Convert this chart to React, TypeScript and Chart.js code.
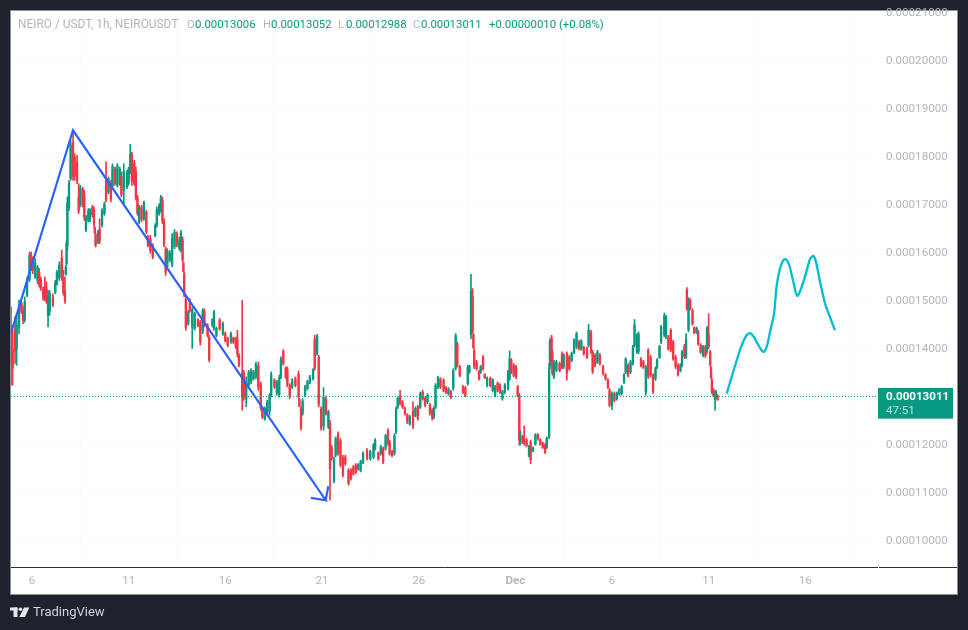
import React, { useEffect, useRef } from "react";
import { Chart, registerables } from "chart.js";

Chart.register(...registerables);

// Candle values are in units of 0.00000001 USDT. Hours count from the left edge of the chart.
const candleHours = [
  0,2,5,7,10,13,15,17,20,23,25,27,30,33,35,37,40,42,44,46,48,52,55,57,60,63,65,67,68,69,70,72,74,77,79,82,84,86,89,91,93,96,98,101,103,104,105,108,110,113,116,118,121,124,126,129,132,135,137,140,144,146,148,150,153,155,157,159,162,165,168,170,173,176,179,181,184,186,188,190,192,194,197,200,203,206,209,211,213,214,215,217,220,222,225,228,232,235,238,240,244,246,250,252,255,259,263,266,269,273,276,279,281,283,
  287,289,292,295,298,301,304,307,310,312,315,318,321,323,327,330,333,335,338,341,343,346,349,353,357,358,360,362,365,368,371,375,377,380,382,385,388,391,394,396,398,401,403,406,409,412,415,419,422,425,428,431,434,437,442,446,450,452,456,459,462,465,468,470,473,476,478,480,483,486,489,492,495,499,502,505,508,511,514,517,520,523,525,527,530,533,537,540,543,546,549,552,554,557,561,564,567,569,571,573,574,
  575,578,581,583,586,588,591,595,598,601,604,607,610,613,617,619,621,624,627,629,631,632,635,637,640,643,645,648,651,654,657,660,663,665,668,669,671,672,674,677,681,684,686,690,693,696,699,702,705,708,711,715,717,720,722,725,728,731,735,738,741,743,746,749,752,755,758,761,763,766,769,772,774,777,779,782,785,788,791,794,797,800,802,805,807,811,813,816,819,822,825,828,831,833,836,838,839,841,843,846,848,851,853,856,859,862,864,866,868,869,870,872,874,875,877,
];
const candleOpen = [
  14500,14000,14400,14000,14450,14950,14780,14620,15120,15450,15950,15800,15500,15420,15600,15450,15240,15300,15250,14700,14800,15080,15180,15370,15480,15900,15500,15200,15570,15780,16150,16950,17550,18300,18000,17900,17150,17000,17330,17200,16480,16680,16700,16950,16900,16530,16380,16220,16500,16580,16820,17500,17270,17450,17400,17750,17420,17450,17600,17300,17380,17450,17700,18050,17880,17700,17150,16650,16950,16720,16850,16340,16300,16150,16360,16580,16820,16900,17100,16650,16080,15720,15850,15760,16130,16400,16100,16070,16280,15790,15560,15040,14530,15000,14450,14430,14610,14560,14370,14790,14490,14240,14490,14430,14280,14600,14320,14320,14220,14150,14230,14220,14200,13870,
  13500,13500,12950,13250,13320,13380,13420,13650,13270,12770,12550,12660,12700,13050,13350,13080,13050,13420,13950,13590,13580,13240,13210,13390,13480,12950,12750,12660,13040,13180,13310,13380,14200,13900,13830,12750,12400,12960,12380,12450,11950,11250,11790,12230,12090,11740,11750,11470,11470,11540,11580,11500,11470,11640,11890,11720,11750,11920,11830,11820,11930,11930,12300,12070,11860,11820,12270,12790,13000,12900,12770,12620,12440,12700,12620,12790,12790,13100,12970,12900,12830,12730,12590,12790,13210,13370,13350,13190,13070,13110,13180,13600,14110,13630,13210,13190,13280,13520,14300,15100,14300,
  13970,13730,13520,13520,13830,13470,13240,13390,13140,13040,13280,13250,12970,13100,13180,13390,13770,13660,13630,13210,13030,12030,12180,12150,12110,11790,12060,11880,12020,12210,12110,12040,12000,11950,12170,13640,14230,13930,13420,13560,13700,13900,13630,13900,13830,13760,13940,14050,14150,14000,14030,14010,14080,14350,13930,13870,13730,13870,13630,13460,13350,13140,12820,13070,12960,13060,13070,13310,13520,13660,13520,13700,14080,13950,13950,13790,13730,13100,13970,13830,13450,13380,13620,13830,14150,14290,14260,14250,14390,14150,13830,13660,13550,13660,14060,13840,15230,14400,15020,14800,14440,14340,14360,14080,13870,14040,13950,14300,13940,13610,13350,13150,12950,13006,13030,
];
const candleHigh = [
  14880,14390,14670,14740,15020,14980,14880,15085,15500,16020,16020,15920,15880,15745,15675,15500,15290,15500,15400,15220,15220,15150,15430,15640,15815,16060,15640,15500,15745,16265,17168,17515,18350,18557,18070,18035,17445,17410,17375,17305,16785,16925,16925,16995,16960,16540,16405,16475,16715,16925,17065,17900,17585,17515,17860,17790,17860,17790,17690,17860,17725,17790,18265,18105,17930,17790,17200,16995,16995,17080,16890,16370,16370,16195,16610,16960,17030,17200,17170,16715,16125,16090,16055,16405,16490,16440,16335,16475,16335,15815,15605,15085,14805,15050,14875,14770,14635,14600,14840,14840,14530,14285,14635,14805,14460,14635,14565,14355,14250,14355,14250,14250,14390,13905,
  15016,13558,13420,13558,13592,13558,13730,13730,13315,12794,12794,12933,13072,13523,13385,13350,13454,13835,13988,13627,13627,13280,13385,13420,13544,12968,12794,12968,13245,13350,13454,13592,14287,14308,13870,12794,13197,13002,12725,12516,11995,11752,12169,12273,12134,11787,11787,11509,11509,11579,11613,11613,11683,11857,11926,11891,12030,12134,11857,11995,11960,12225,12343,12100,11891,12238,12794,13002,13141,12933,12794,12655,12620,12898,12794,12829,13106,13141,13002,13072,12863,12759,12794,13280,13433,13405,13385,13224,13197,13141,13592,14322,14148,13662,13245,13224,13662,13662,15558,15259,14322,
  14009,13766,13558,13662,13870,13488,13419,13419,13384,13245,13315,13280,13141,13280,13558,13960,13801,13697,13662,13245,13072,12308,12204,12398,12134,11995,12100,11961,12238,12238,12134,12065,12030,12169,13697,14217,14287,13974,13766,13766,13732,13940,13905,13940,13870,13940,14217,14356,14183,14197,14058,14044,14516,14391,13974,13905,13974,13905,13662,13488,13384,13176,13106,13106,13106,13176,13245,13488,13822,13697,13766,14079,14613,14322,14356,13822,13766,13662,14009,13870,13488,13627,13801,14079,14495,14752,14703,14287,14426,14183,13870,13697,13697,13974,14099,14322,15280,15072,15051,14842,14460,14460,14391,14113,14079,14079,14474,14738,13974,13627,13384,13176,13106,13141,13052,
];
const candleLow = [
  13245,13245,13700,13660,14320,14740,14530,14560,15090,15400,15640,15570,15470,15360,15290,15220,15015,15015,14950,14460,14700,14880,15150,15330,15430,15430,15120,14950,15535,15745,16060,16890,17515,17515,17515,17445,16820,16960,16960,16680,16440,16650,16650,16750,16540,16405,16125,16195,16195,16540,16785,17065,17235,17065,17375,17410,17375,17410,17170,17030,17340,17410,17655,17410,17410,17100,16785,16610,16650,16680,16405,16125,15990,15880,16335,16540,16785,16855,16610,16125,15535,15675,15815,15710,16090,16125,16055,16020,15815,15605,15085,14390,14495,14770,14010,14390,14460,14080,14320,14460,14250,13730,14460,14390,14250,14390,14285,14145,14045,14115,14115,14010,13835,13625,
  12725,12933,12794,13211,13280,13350,13385,13141,12725,12551,12516,12620,12620,13002,13176,13037,13002,13385,13662,13385,13211,12968,13176,13211,12968,12794,12308,12620,13002,13141,13280,13350,13558,13870,12794,12308,12308,12620,12343,10850,11683,11211,11752,11787,11544,11336,11579,11162,11266,11370,11405,11475,11440,11613,11683,11683,11718,11891,11683,11787,11613,11891,11995,11787,11752,11787,12238,12759,12829,12759,12620,12447,12412,12343,12586,12516,12759,12933,12794,12863,12620,12516,12551,12759,13176,13176,13106,13072,13037,12968,13141,13558,13627,13419,13072,13002,13245,13488,14217,14322,14009,
  13592,13558,13349,13488,13558,13384,13211,13211,13106,13002,13106,13072,12933,13072,13141,13349,13488,13419,13384,13002,11995,11995,12030,11995,11961,11752,11613,11857,11995,12100,11995,11926,11822,11926,12134,13592,13662,13454,13384,13523,13523,13592,13592,13349,13558,13732,13905,14009,13974,13974,13870,13801,14044,13905,13488,13627,13697,13662,13454,13349,13176,12794,12738,12898,12933,13037,13037,13280,13488,13419,13488,13662,14044,13905,13905,13627,13592,13037,13384,13419,13072,13349,13592,13801,14113,14252,14217,13974,13940,13766,13592,13433,13523,13627,13801,13801,14808,14356,14808,14495,14322,14322,14079,13905,13836,13822,13905,14009,13627,13384,13072,13002,12725,13002,12930,
];
const candleClose = [
  13700,13600,13950,14500,14900,14780,14600,14980,15440,15950,15700,15640,15800,15700,15340,15260,15060,15050,15000,15100,15150,14920,15380,15600,15750,15500,15180,15000,15700,16200,17050,17450,18250,17600,17600,17500,16880,17350,17000,16750,16750,16880,16900,16800,16600,16420,16160,16440,16250,16880,17020,17100,17550,17120,17800,17450,17820,17750,17220,17700,17680,17750,18050,17500,17450,17150,16830,16950,16700,17050,16450,16160,16050,15920,16570,16900,16990,17150,16660,16180,15600,16040,16010,16300,16430,16170,16280,16420,15860,15620,15130,14450,14770,14800,14820,14730,14490,14150,14800,14500,14290,13780,14610,14770,14430,14420,14530,14170,14080,14320,14140,14040,13900,13660,
  13000,13000,13300,13510,13550,13520,13680,13200,12780,12590,12760,12890,13030,13470,13210,13310,13400,13780,13700,13420,13260,13010,13350,13240,13010,12810,12360,12920,13210,13320,13420,13560,13600,14270,12850,12360,13000,12660,12690,11500,11720,11700,12130,11830,11590,11380,11610,11200,11300,11400,11430,11590,11650,11820,11720,11860,11990,12100,11710,11960,11650,12190,12030,11820,11780,12200,12750,12970,12860,12790,12650,12480,12590,12400,12760,12550,13070,12960,12830,13040,12660,12550,12760,13240,13400,13210,13140,13100,13170,13000,13550,14280,13670,13450,13100,13030,13620,13640,15200,14360,14030,
  13630,13590,13380,13630,13590,13400,13390,13240,13350,13210,13140,13100,13110,13250,13520,13800,13520,13450,13420,13030,12100,12270,12060,12030,11990,11970,11700,11940,12210,12130,12020,11950,11850,12140,13600,14180,13720,13500,13730,13730,13550,13630,13870,13500,13590,13910,14180,14320,14000,14170,13900,13830,14400,13950,13530,13660,13940,13700,13490,13380,13210,12830,13070,12930,13080,13150,13210,13460,13790,13450,13730,14040,14500,14280,14310,13660,13620,13620,13430,13460,13110,13590,13770,14050,14460,14700,14660,14010,13980,13800,13630,13470,13670,13930,13840,14200,14850,15000,14840,14530,14340,14440,14110,13940,14050,13860,14430,14050,13670,13400,13110,13030,13070,13120,12950,
];

const blueDays = [4.914, 8.12, 21.19, 20.43, 21.19, 21.325];
const bluePrices = [14329, 18557, 10850, 10898, 10850, 11142];

const cyanDays = [41.93,42.19,42.45,42.71,42.96,43.14,43.34,43.57,43.83,44.0,44.17,44.38,44.52,44.69,44.86,45.0,45.17,45.38,45.58,45.81,46.03,46.24,46.41,46.55,46.76,47.02,47.27,47.53];
const cyanPrices = [13072,13419,13766,14079,14287,14329,14252,14079,13940,14044,14357,14738,15329,15676,15850,15870,15745,15398,15107,15294,15572,15870,15940,15815,15398,14947,14669,14391];

const lastPrice = 13011;
const startDay = 4.914;
const endDay = 49.757;
const priceMin = 9459;
const priceMax = 21042;
const priceTicks = [10000,11000,12000,13000,14000,15000,16000,17000,18000,19000,20000,21000];
const dayTicks = [6, 11, 16, 21, 26, 31, 36, 41, 46];
const dayLabels = ["6", "11", "16", "21", "26", "Dec", "6", "11", "16"];

const titleText = "NEIRO / USDT, 1h, NEIROUSDT";
const ohlcLabels = ["O", "H", "L", "C"];
const ohlcValues = ["0.00013006", "0.00013052", "0.00012988", "0.00013011"];
const changeText = "+0.00000010 (+0.08%)";
const countdownText = "47:51";
const brandText = "TradingView";

const GREEN = "#089981";
const RED = "#f23645";
const GREY = "#b2b5be";
const DARK = "#1e222d";
const FONT = "Roboto";

const fmt = (v: number) => (v / 1e8).toFixed(8);
const candleColors = candleOpen.map((o, i) => (candleClose[i] >= o ? GREEN : RED));
const candleX = candleHours.map((h) => startDay + h / 24);

const chrome = {
  id: "chrome",
  beforeDraw(chart: any) {
    const c = chart.ctx;
    c.save();
    c.fillStyle = DARK;
    c.fillRect(0, 0, 968, 630);
    c.fillStyle = "#ffffff";
    c.fillRect(10, 10, 948, 585);
    c.strokeStyle = "#8d9097";
    c.lineWidth = 1;
    c.strokeRect(10.5, 10.5, 947, 584);
    c.restore();
  },
  afterDraw(chart: any) {
    const c = chart.ctx;
    const y = chart.scales.y;
    const bottom = Math.round(chart.chartArea.bottom) + 0.5;
    c.save();
    c.strokeStyle = "#2a2e39";
    c.lineWidth = 1;
    c.beginPath();
    c.moveTo(11, bottom);
    c.lineTo(878, bottom);
    c.moveTo(879, bottom);
    c.lineTo(957, bottom);
    c.stroke();

    // last price label
    const py = y.getPixelForValue(lastPrice);
    c.fillStyle = GREEN;
    c.fillRect(878, py - 8.5, 75, 30.7);
    c.textBaseline = "middle";
    c.textAlign = "left";
    c.font = `bold 11.6px ${FONT}`;
    c.fillStyle = "#ffffff";
    c.fillText(fmt(lastPrice), 886, py + 0.5);
    c.font = `11.6px ${FONT}`;
    c.fillStyle = "rgba(255,255,255,0.72)";
    c.fillText(countdownText, 886, py + 15);

    // legend line
    c.font = `11.9px ${FONT}`;
    c.fillStyle = GREY;
    c.fillText(titleText, 18, 25);
    c.font = `11.4px ${FONT}`;
    const labelX = [187, 263, 338, 413];
    const valueX = [195, 271, 346, 421];
    ohlcLabels.forEach((t, i) => {
      c.fillStyle = GREY;
      c.fillText(t, labelX[i], 25);
      c.fillStyle = GREEN;
      c.fillText(ohlcValues[i], valueX[i], 25);
    });
    c.fillText(changeText, 489, 25);

    // brand mark
    c.fillStyle = "#e3e5ea";
    c.fillRect(10, 607.5, 7.5, 3);
    c.fillRect(13.5, 607.5, 4, 9.5);
    c.beginPath();
    c.arc(20.4, 609.2, 1.8, 0, Math.PI * 2);
    c.fill();
    c.beginPath();
    c.moveTo(24, 607.5);
    c.lineTo(29.3, 607.5);
    c.lineTo(25, 617);
    c.lineTo(19.3, 617);
    c.closePath();
    c.fill();
    c.font = `13px ${FONT}`;
    c.fillStyle = "#d1d4dc";
    c.fillText(brandText, 33, 612.5);
    c.restore();
  },
};

export default function App() {
  const ref = useRef<HTMLCanvasElement>(null);
  useEffect(() => {
    document.body.style.margin = "0";
    document.body.style.background = DARK;
    const chart = new Chart(ref.current as HTMLCanvasElement, {
      type: "bar",
      data: {
        datasets: [
          {
            type: "line",
            data: cyanDays.map((x, i) => ({ x, y: cyanPrices[i] })),
            borderColor: "#00bcd4",
            borderWidth: 2.3,
            pointRadius: 0,
            tension: 0.3,
            order: 1,
          },
          {
            type: "line",
            data: blueDays.map((x, i) => ({ x, y: bluePrices[i] })),
            borderColor: "#2962ff",
            borderWidth: 2.2,
            pointRadius: 0,
            tension: 0,
            order: 1,
          },
          {
            type: "line",
            data: [startDay, endDay].map((x) => ({ x, y: lastPrice })),
            borderColor: GREEN,
            borderWidth: 1,
            borderDash: [1, 2],
            pointRadius: 0,
            order: 2,
          },
          {
            type: "bar",
            data: candleX.map((x, i) => ({ x, y: [candleOpen[i], candleClose[i]] })),
            backgroundColor: candleColors,
            borderWidth: 0,
            barThickness: 1.7,
            grouped: false,
            order: 3,
          },
          {
            type: "bar",
            data: candleX.map((x, i) => ({ x, y: [candleLow[i], candleHigh[i]] })),
            backgroundColor: candleColors,
            borderWidth: 0,
            barThickness: 1,
            grouped: false,
            order: 4,
          },
        ],
      } as any,
      options: {
        responsive: false,
        animation: false,
        events: [],
        layout: { autoPadding: false, padding: { left: 11, top: 11, right: 11, bottom: 35 } },
        plugins: { legend: { display: false }, tooltip: { enabled: false } },
        scales: {
          x: {
            type: "linear",
            offset: false,
            bounds: "data",
            min: startDay,
            max: endDay,
            afterBuildTicks: (s: any) => {
              s.ticks = dayTicks.map((value) => ({ value }));
            },
            afterFit: (s: any) => {
              s.height = 28;
              s.paddingLeft = 0;
              s.paddingRight = 0;
            },
            grid: { color: "rgba(42,46,57,0.02)", drawTicks: false },
            border: { display: false },
            ticks: {
              autoSkip: false,
              maxRotation: 0,
              padding: 7,
              color: GREY,
              font: (ctx: any) => ({ family: FONT, size: 11.6, weight: ctx.index === 5 ? "bold" : "normal" }),
              callback: (_v: any, i: number) => dayLabels[i],
            },
          },
          y: {
            type: "linear",
            position: "right",
            bounds: "data",
            min: priceMin,
            max: priceMax,
            afterBuildTicks: (s: any) => {
              s.ticks = priceTicks.map((value) => ({ value }));
            },
            afterFit: (s: any) => {
              s.width = 79;
              s.paddingTop = 0;
              s.paddingBottom = 0;
            },
            grid: { color: "rgba(42,46,57,0.02)", drawTicks: false },
            border: { display: false },
            ticks: {
              padding: 8,
              color: GREY,
              font: { family: FONT, size: 11.6 },
              callback: (v: any) => fmt(Number(v)),
            },
          },
        },
      } as any,
      plugins: [chrome],
    });
    return () => chart.destroy();
  }, []);
  return <canvas ref={ref} width={968} height={630} style={{ display: "block" }} />;
}
